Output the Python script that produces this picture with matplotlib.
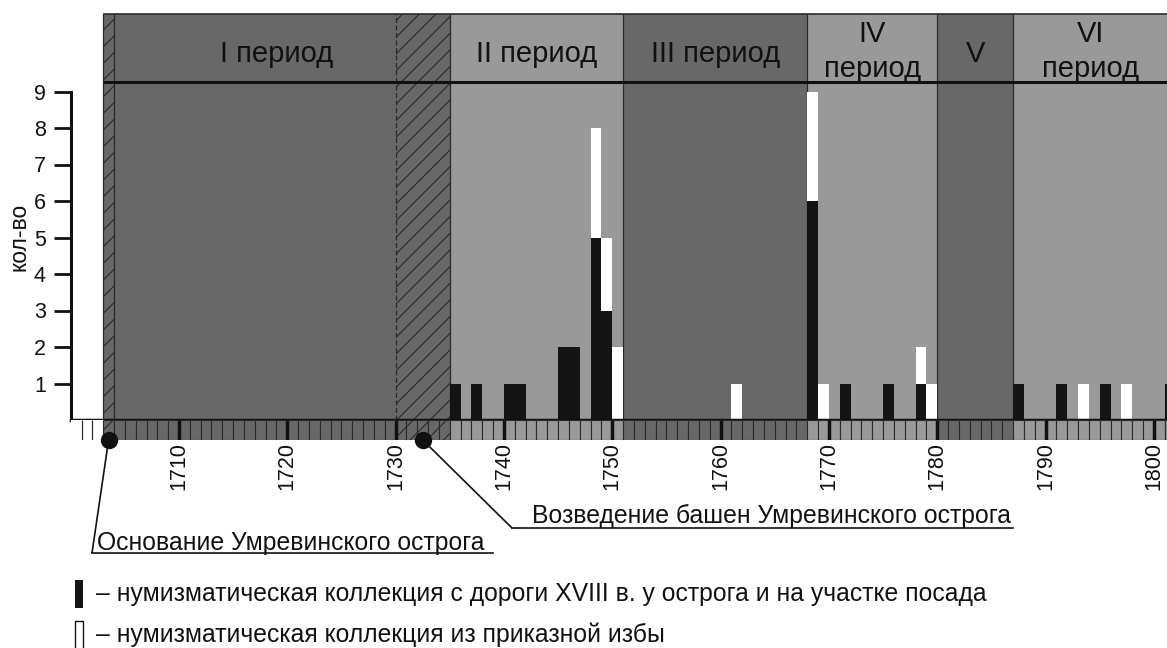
import matplotlib
matplotlib.use("Agg")
import matplotlib.pyplot as plt
from matplotlib.patches import Rectangle
from matplotlib.lines import Line2D

plt.rcParams['font.family'] = ['Liberation Sans', 'DejaVu Sans']
plt.rcParams['hatch.linewidth'] = 0.8

# -----------------------------------------------------------------------------
# data
# -----------------------------------------------------------------------------
years        = [1735, 1737, 1740, 1741, 1745, 1746, 1748, 1749, 1750, 1761, 1768,
                1769, 1771, 1775, 1778, 1779, 1787, 1791, 1793, 1795, 1797, 1801]
black_counts = [1, 1, 1, 1, 2, 2, 5, 3, 0, 0, 6, 0, 1, 1, 1, 0, 1, 1, 0, 1, 0, 1]
white_counts = [0, 0, 0, 0, 0, 0, 3, 2, 2, 1, 3, 1, 0, 0, 1, 1, 0, 0, 1, 0, 1, 0]

period_labels = ['I период', 'II период', 'III период', 'IV\nпериод', 'V', 'VI\nпериод']
period_start  = [1703, 1735, 1751, 1768, 1780, 1787]
period_end    = [1735, 1751, 1768, 1780, 1787, 1802]
period_dark   = [True, False, True, False, True, False]

hatch_spans = [(1703, 1704), (1730, 1735)]
decades = list(range(1710, 1801, 10))

founding_text = 'Основание Умревинского острога'
founding_year = 1703.5
towers_text   = 'Возведение башен Умревинского острога'
towers_year   = 1732.5

legend_black = '– нумизматическая коллекция с дороги XVIII в. у острога и на участке посада'
legend_white = '– нумизматическая коллекция из приказной избы'

# -----------------------------------------------------------------------------
# layout (pixels)
# -----------------------------------------------------------------------------
DARK  = '#686868'
LIGHT = '#999999'
EDGE  = '#2a2a2a'
INK   = '#111111'

W, H = 1167, 648
PX_YEAR = 10.833      # pixels per year
X1710   = 179         # pixel x of 1710
UNIT    = 36.5        # pixels per count
AX_L, AX_B = 71, 420  # axes corner (pixels, y from top)
NOTE_SIZE = 17.8

def fx(x):
    return x / W

def fy(y):
    return 1 - y / H

fig = plt.figure(figsize=(W / 100, H / 100), dpi=100)

x_left = 1710 - (X1710 - AX_L) / PX_YEAR
x_right = 1710 + (W - X1710) / PX_YEAR
y_top = 11.16
header_line = 9.26
header_top = 11.12

ax = fig.add_axes([fx(AX_L), fy(AX_B), (W - AX_L) / W, y_top * UNIT / H])
ax.set_xlim(x_left, x_right)
ax.set_ylim(0, y_top)
ax.patch.set_alpha(0)

# period bands
for s, e, dark in zip(period_start, period_end, period_dark):
    ax.axvspan(s, e, ymax=header_top / y_top, color=DARK if dark else LIGHT, lw=0, zorder=0)
for s, e in hatch_spans:
    ax.axvspan(s, e, ymax=header_top / y_top, facecolor=DARK, edgecolor=EDGE,
               hatch='//', lw=0, zorder=0.5)

ax.vlines([1703, 1704] + period_start[1:], 0, header_top, color=EDGE, lw=0.9, zorder=1)
ax.vlines(1730, 0, header_top, color=EDGE, lw=0.9, linestyles=(0, (4, 2)), zorder=1)
ax.hlines(header_line, 1703, x_right + 1, color=INK, lw=2.2, zorder=4)
ax.hlines(header_top, 1703, x_right + 1, color=EDGE, lw=1.2, zorder=4)

# period titles
for lab, s, e in zip(period_labels, period_start, period_end):
    cx = (s + min(e, x_right)) / 2
    lines = lab.split('\n')
    if len(lines) == 1:
        ax.text(cx, 9.816, lines[0], ha='center', va='baseline', fontsize=21, color=INK)
    else:
        ax.text(cx, 10.364, lines[0], ha='center', va='baseline', fontsize=21, color=INK)
        ax.text(cx, 9.397, lines[1], ha='center', va='baseline', fontsize=21, color=INK)

# bars
ax.bar(years, black_counts, width=1, align='edge', color='#141414', lw=0, zorder=3)
ax.bar(years, white_counts, bottom=black_counts, width=1, align='edge',
       color='white', lw=0, zorder=3)

for side in ['top', 'right']:
    ax.spines[side].set_visible(False)
ax.spines['left'].set_bounds(0, 9)
ax.spines['left'].set_linewidth(2.2)
ax.spines['bottom'].set_linewidth(2.5)
ax.spines['left'].set_color(INK)
ax.spines['bottom'].set_color(INK)
ax.spines['bottom'].set_zorder(5)
ax.tick_params(axis='x', bottom=False, labelbottom=False)
ax.set_yticks(range(1, 10))
ax.tick_params(axis='y', length=12, width=2, pad=6, labelsize=15.5, color=INK, labelcolor=INK)
fig.text(fx(19), fy(237), 'кол-во', rotation=90, ha='center', va='center',
         fontsize=16.5, color=INK)

# year strip
ax_s = fig.add_axes([fx(AX_L), fy(440), (W - AX_L) / W, 20 / H])
ax_s.set_xlim(x_left, x_right)
ax_s.set_ylim(0, 1)
cell_years = list(range(1703, 1802))
cell_colors = []
for yr in cell_years:
    for s, e, dark in zip(period_start, period_end, period_dark):
        if s <= yr < e:
            cell_colors.append(DARK if dark else LIGHT)
cells = ax_s.bar(cell_years, 1, width=1, align='edge', color=cell_colors,
                 edgecolor=EDGE, lw=0.8)
for yr, c in zip(cell_years, cells):
    if any(s <= yr < e for s, e in hatch_spans):
        c.set_hatch('//')
ax_s.vlines([1701, 1702], 0, 1, color=EDGE, lw=0.9)
ax_s.vlines(decades, 0, 1, color=INK, lw=2.5, zorder=4)
for side in ax_s.spines:
    ax_s.spines[side].set_visible(False)
ax_s.set_yticks([])
ax_s.set_xticks(decades)
ax_s.set_xticklabels([str(d) for d in decades], rotation=90, fontsize=15.5, color=INK)
ax_s.tick_params(axis='x', length=0, pad=1.5)

# event markers and leaders
ax_s.plot([founding_year, towers_year], [0, 0], 'o', ms=11.5, color=INK,
          clip_on=False, zorder=6)

def leader(year, end_px, underline_to, text, text_x, text_base):
    ex, ey = end_px
    ax_s.annotate('', xy=(year, 0), xycoords='data',
                  xytext=(fx(ex), fy(ey)), textcoords='figure fraction',
                  arrowprops=dict(arrowstyle='-', color=INK, lw=1.2,
                                  shrinkA=0, shrinkB=0))
    fig.add_artist(Line2D([fx(ex), fx(underline_to)], [fy(ey), fy(ey)],
                          transform=fig.transFigure, color=INK, lw=1.2))
    fig.text(fx(text_x), fy(text_base), text, ha='left', va='baseline',
             fontsize=NOTE_SIZE, color=INK)

leader(founding_year, (92, 553), 493, founding_text, 97, 550)
leader(towers_year, (512, 528), 1013, towers_text, 532, 523)

# legend
fig.add_artist(Rectangle((fx(75), fy(608)), 8 / W, 28 / H, transform=fig.transFigure,
                         facecolor='#141414', edgecolor='none'))
fig.add_artist(Rectangle((fx(75), fy(655)), 8 / W, 34 / H, transform=fig.transFigure,
                         facecolor='white', edgecolor=INK, lw=1))
fig.text(fx(96), fy(594), legend_black, ha='left', va='center', fontsize=NOTE_SIZE, color=INK)
fig.text(fx(96), fy(635), legend_white, ha='left', va='center', fontsize=NOTE_SIZE, color=INK)

fig.savefig('out.png', dpi=100)
